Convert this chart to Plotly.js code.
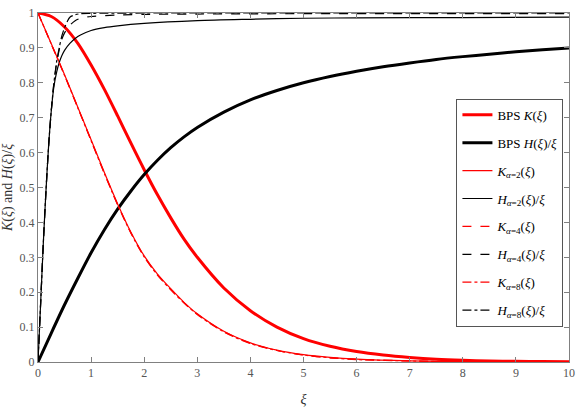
<!DOCTYPE html>
<html>
<head>
<meta charset="utf-8">
<script src="https://cdn.plot.ly/plotly-3.0.1.min.js"></script>
<style>html,body{margin:0;padding:0;background:#fff;}#chart{width:585px;height:414px;}</style>
</head>
<body>
<div id="chart"></div>
<script>
// BPS solution
const xBPS = [0,0.25,0.5,0.75,1,1.25,1.5,1.75,2,2.25,2.5,2.75,3,3.5,4,4.5,5,5.5,6,6.5,7,7.5,8,8.5,9,9.5,10];
const kBPS = [1,0.990,0.960,0.913,0.851,0.781,0.705,0.627,0.551,0.479,0.413,0.352,0.300,0.212,0.147,0.100,0.067,0.045,0.030,0.020,0.013,0.008,0.005,0.003,0.002,0.0014,0.0009];
const hBPS = [0,0.083,0.164,0.240,0.313,0.379,0.438,0.490,0.537,0.578,0.614,0.645,0.672,0.716,0.751,0.778,0.800,0.818,0.833,0.846,0.857,0.867,0.875,0.882,0.889,0.895,0.900];

// alpha solutions: K
const xK = [0,0.25,0.5,0.75,1,1.25,1.5,1.75,2,2.25,2.5,2.75,3,3.5,4,4.5,5,5.5,6,7,8,9,10];
const kA2 = [1,0.912,0.823,0.730,0.637,0.543,0.453,0.372,0.304,0.252,0.210,0.171,0.138,0.088,0.055,0.034,0.021,0.013,0.008,0.003,0.001,0.0005,0.0002];
const kA4 = [1,0.911,0.822,0.729,0.635,0.541,0.451,0.370,0.302,0.250,0.208,0.170,0.137,0.087,0.054,0.033,0.020,0.012,0.008,0.003,0.001,0.0005,0.0002];
const kA8 = [1,0.911,0.821,0.728,0.634,0.540,0.450,0.369,0.301,0.249,0.207,0.169,0.136,0.086,0.053,0.033,0.020,0.012,0.007,0.003,0.001,0.0005,0.0002];

// alpha solutions: H/xi
const xH2 = [0,0.05,0.1,0.15,0.2,0.25,0.3,0.35,0.4,0.45,0.5,0.6,0.7,0.8,1,1.25,1.5,2,3,4,5,6,8,10];
const hA2 = [0,0.17,0.34,0.49,0.62,0.72,0.79,0.83,0.858,0.878,0.893,0.913,0.927,0.937,0.950,0.958,0.963,0.970,0.978,0.982,0.985,0.986,0.987,0.988];
const xH4 = [0,0.05,0.1,0.15,0.2,0.25,0.3,0.35,0.4,0.45,0.5,0.55,0.6,0.7,0.8,1,1.5,2,3,5,10];
const hA4 = [0,0.17,0.34,0.49,0.62,0.72,0.80,0.855,0.895,0.925,0.943,0.955,0.965,0.978,0.985,0.990,0.994,0.996,0.997,0.998,0.998];
const xH8 = [0,0.05,0.1,0.15,0.2,0.25,0.3,0.35,0.4,0.45,0.5,0.55,0.6,0.7,0.8,1,2,10];
const hA8 = [0,0.17,0.34,0.49,0.62,0.72,0.80,0.86,0.90,0.935,0.958,0.975,0.988,0.995,0.998,0.999,1,1];

const names = [
  'BPS <i>K</i>(<i>ξ</i>)',
  'BPS <i>H</i>(<i>ξ</i>)/<i>ξ</i>',
  '<i>K</i><sub><i>α</i>=2</sub>(<i>ξ</i>)',
  '<i>H</i><sub><i>α</i>=2</sub>(<i>ξ</i>)/<i>ξ</i>',
  '<i>K</i><sub><i>α</i>=4</sub>(<i>ξ</i>)',
  '<i>H</i><sub><i>α</i>=4</sub>(<i>ξ</i>)/<i>ξ</i>',
  '<i>K</i><sub><i>α</i>=8</sub>(<i>ξ</i>)',
  '<i>H</i><sub><i>α</i>=8</sub>(<i>ξ</i>)/<i>ξ</i>'
];

const RED = '#ff0000', BLACK = '#000000';
function tr(x, y, i, color, width, dash) {
  return {x: x, y: y, name: names[i], legendgroup: 'g' + i, type: 'scatter', mode: 'lines',
    line: {color: color, width: width, dash: dash, shape: 'spline', smoothing: 0.8}};
}
const data = [
  tr(xBPS, kBPS, 0, RED, 3, 'solid'),
  tr(xBPS, hBPS, 1, BLACK, 3, 'solid'),
  tr(xK, kA2, 2, RED, 1.2, 'solid'),
  tr(xH2, hA2, 3, BLACK, 1.2, 'solid'),
  tr(xK, kA4, 4, RED, 1.2, 'dash'),
  tr(xH4, hA4, 5, BLACK, 1.2, 'dash'),
  tr(xK, kA8, 6, RED, 1.2, 'dashdot'),
  tr(xH8, hA8, 7, BLACK, 1.2, 'dashdot')
];

const AX = '#808080';
const FONT = "'Liberation Serif', 'Times New Roman', serif";
const layout = {
  width: 585, height: 414,
  margin: {l: 38, r: 16, t: 13, b: 52},
  paper_bgcolor: '#fff', plot_bgcolor: '#fff',
  font: {family: FONT, color: '#000', size: 13},
  showlegend: true,
  legend: {x: 0.788, y: 0.754, xanchor: 'left', yanchor: 'top',
    bordercolor: '#555', borderwidth: 1, bgcolor: '#fff',
    font: {family: FONT, size: 13, color: '#000'}, tracegroupgap: 8, traceorder: 'grouped'},
  xaxis: {range: [0, 10], dtick: 1, tick0: 0, showgrid: false, zeroline: false,
    showline: true, linecolor: AX, linewidth: 1, mirror: 'allticks',
    ticks: 'inside', ticklen: 5, tickcolor: AX,
    tickfont: {family: FONT, size: 12, color: '#555'},
    title: {text: '<i>ξ</i>', font: {family: FONT, size: 14, color: '#333'}, standoff: 14}},
  yaxis: {range: [0, 1], dtick: 0.1, tick0: 0, showgrid: false, zeroline: false,
    showline: true, linecolor: AX, linewidth: 1, mirror: 'allticks',
    ticks: 'inside', ticklen: 5, tickcolor: AX,
    tickfont: {family: FONT, size: 12, color: '#555'},
    title: {text: '<i>K</i>(<i>ξ</i>) and <i>H</i>(<i>ξ</i>)/<i>ξ</i>', font: {family: FONT, size: 14, color: '#333'}, standoff: 6}}
};
Plotly.newPlot('chart', data, layout, {displayModeBar: false, staticPlot: true});
</script>
</body>
</html>
